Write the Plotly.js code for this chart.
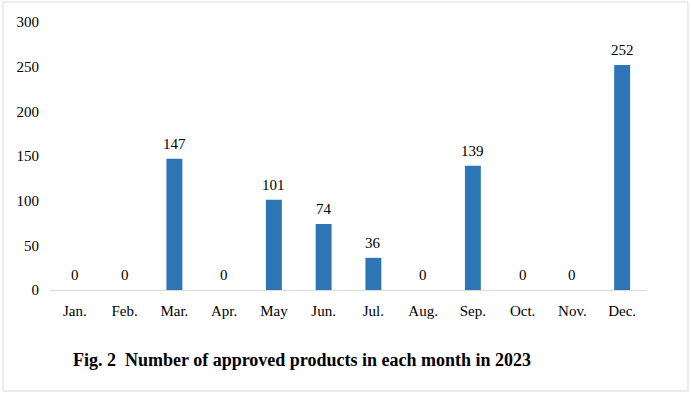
<!DOCTYPE html>
<html>
<head>
<meta charset="utf-8">
<script src="https://cdn.plot.ly/plotly-3.0.1.min.js"></script>
<style>
  html, body { margin: 0; padding: 0; background: #fff; }
  #chart { width: 691px; height: 396px; }
</style>
</head>
<body>
<div id="chart"></div>
<script>
const months = ["Jan.", "Feb.", "Mar.", "Apr.", "May", "Jun.", "Jul.", "Aug.", "Sep.", "Oct.", "Nov.", "Dec."];
const approved = [0, 0, 147, 0, 101, 74, 36, 0, 139, 0, 0, 252];
const yTicks = [0, 50, 100, 150, 200, 250, 300];
const figTitle = "Fig. 2  Number of approved products in each month in 2023";

const fontFam = "Liberation Serif";

const trace = {
  type: "bar",
  x: months,
  y: approved,
  marker: { color: "#2e75b6" },
  cliponaxis: false,
  hoverinfo: "none"
};

const valueLabels = months.map((m, i) => ({
  x: m,
  y: approved[i],
  xref: "x", yref: "y",
  text: String(approved[i]),
  showarrow: false,
  xanchor: "center", yanchor: "middle",
  yshift: 15,
  font: { family: fontFam, size: 15, color: "#000" }
}));

const layout = {
  width: 691,
  height: 396,
  margin: { l: 50, r: 44, t: 22, b: 106 },
  paper_bgcolor: "#fff",
  plot_bgcolor: "#fff",
  bargap: 0.68,
  showlegend: false,
  font: { family: fontFam, size: 15, color: "#000" },
  xaxis: {
    type: "category",
    showline: true,
    linecolor: "#d9d9d9",
    linewidth: 1,
    ticks: "",
    showgrid: false,
    zeroline: false,
    tickfont: { family: fontFam, size: 15, color: "#000" },
    ticklabelstandoff: 7
  },
  yaxis: {
    range: [0, 300],
    tickvals: yTicks,
    ticktext: yTicks.map(String),
    showline: false,
    showgrid: false,
    zeroline: false,
    ticks: "",
    tickfont: { family: fontFam, size: 15, color: "#000" },
    ticklabelstandoff: 10
  },
  shapes: [{
    type: "rect",
    xref: "paper", yref: "paper",
    x0: -0.0787, x1: 1.0687,
    y0: -0.377, y1: 1.0746,
    line: { color: "#d9d9d9", width: 1 },
    fillcolor: "rgba(0,0,0,0)",
    layer: "below"
  }],
  annotations: valueLabels.concat([{
    text: "<b>" + figTitle + "</b>",
    xref: "paper", yref: "paper",
    x: 0.422, y: -0.261,
    xanchor: "center", yanchor: "middle",
    showarrow: false,
    font: { family: fontFam, size: 18, color: "#000" }
  }])
};

Plotly.newPlot("chart", [trace], layout, { displayModeBar: false, staticPlot: true });
</script>
</body>
</html>
